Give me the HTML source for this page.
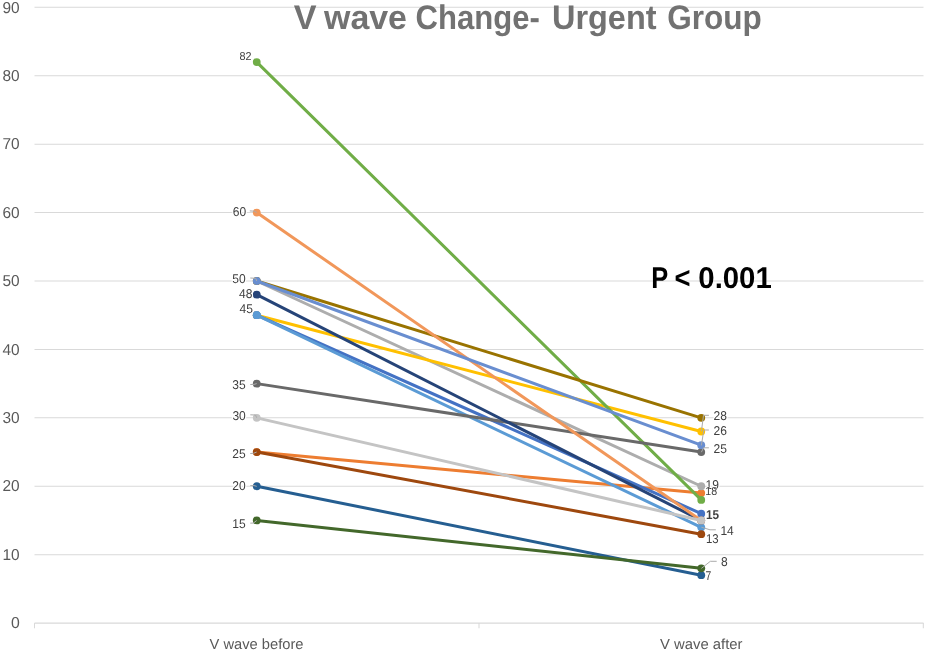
<!DOCTYPE html>
<html><head><meta charset="utf-8"><title>V wave Change- Urgent Group</title>
<style>
html,body{margin:0;padding:0;background:#fff;}
body{width:925px;height:653px;overflow:hidden;}
svg{display:block;font-family:"Liberation Sans",sans-serif;text-rendering:geometricPrecision;}
.ax{font-size:14.7px;fill:#595959;}
.dl{font-size:12px;fill:#404040;paint-order:stroke;stroke:#fff;stroke-width:2.5px;stroke-linejoin:round;}
.ld{stroke:#ABABAB;stroke-width:1;fill:none;}
</style></head><body>
<svg width="925" height="653" viewBox="0 0 925 653">
<rect width="925" height="653" fill="#fff"/>
<g stroke="#D9D9D9" stroke-width="1.05">
<line x1="34.5" x2="923.5" y1="623.1" y2="623.1"/>
<line x1="34.5" x2="923.5" y1="554.68" y2="554.68"/>
<line x1="34.5" x2="923.5" y1="486.26" y2="486.26"/>
<line x1="34.5" x2="923.5" y1="417.84" y2="417.84"/>
<line x1="34.5" x2="923.5" y1="349.42" y2="349.42"/>
<line x1="34.5" x2="923.5" y1="281.0" y2="281.0"/>
<line x1="34.5" x2="923.5" y1="212.58" y2="212.58"/>
<line x1="34.5" x2="923.5" y1="144.16" y2="144.16"/>
<line x1="34.5" x2="923.5" y1="75.74" y2="75.74"/>
<line x1="34.5" x2="923.5" y1="7.32" y2="7.32"/>
<line x1="34.5" x2="34.5" y1="623.1" y2="628.3"/>
<line x1="479" x2="479" y1="623.1" y2="628.3"/>
<line x1="923.3" x2="923.3" y1="623.1" y2="628.3"/>
</g>
<g class="ax" text-anchor="end">
<text transform="translate(19.7 628.3) scale(1 1)" style="font-size:15.8px">0</text>
<text transform="translate(19.7 559.88) scale(1 1)" style="font-size:15.8px" textLength="17.2" lengthAdjust="spacingAndGlyphs">10</text>
<text transform="translate(19.7 491.46) scale(1 1)" style="font-size:15.8px" textLength="17.2" lengthAdjust="spacingAndGlyphs">20</text>
<text transform="translate(19.7 423.04) scale(1 1)" style="font-size:15.8px" textLength="17.2" lengthAdjust="spacingAndGlyphs">30</text>
<text transform="translate(19.7 354.62) scale(1 1)" style="font-size:15.8px" textLength="17.2" lengthAdjust="spacingAndGlyphs">40</text>
<text transform="translate(19.7 286.2) scale(1 1)" style="font-size:15.8px" textLength="17.2" lengthAdjust="spacingAndGlyphs">50</text>
<text transform="translate(19.7 217.78) scale(1 1)" style="font-size:15.8px" textLength="17.2" lengthAdjust="spacingAndGlyphs">60</text>
<text transform="translate(19.7 149.36) scale(1 1)" style="font-size:15.8px" textLength="17.2" lengthAdjust="spacingAndGlyphs">70</text>
<text transform="translate(19.7 80.94) scale(1 1)" style="font-size:15.8px" textLength="17.2" lengthAdjust="spacingAndGlyphs">80</text>
<text transform="translate(19.7 12.52) scale(1 1)" style="font-size:15.8px" textLength="17.2" lengthAdjust="spacingAndGlyphs">90</text>
</g>
<text y="29.4" font-size="34px" font-weight="bold" fill="#727272"><tspan x="293.7" textLength="22.8" lengthAdjust="spacingAndGlyphs">V</tspan> <tspan x="324" textLength="83" lengthAdjust="spacingAndGlyphs">wave</tspan> <tspan x="415.5" textLength="124.3" lengthAdjust="spacingAndGlyphs">Change-</tspan> <tspan x="552" textLength="104.5" lengthAdjust="spacingAndGlyphs">Urgent</tspan> <tspan x="667.2" textLength="94.5" lengthAdjust="spacingAndGlyphs">Group</tspan></text>
<g stroke-width="3" stroke-linecap="round" fill="none">
<line x1="256.75" y1="452.05" x2="701.25" y2="493.1" stroke="#ED7D31"/>
<circle cx="256.75" cy="452.05" r="3.9" fill="#ED7D31" stroke="none"/><circle cx="701.25" cy="493.1" r="3.9" fill="#ED7D31" stroke="none"/>
<line x1="256.75" y1="281.0" x2="701.25" y2="486.26" stroke="#ADADAD"/>
<circle cx="256.75" cy="281.0" r="3.9" fill="#ADADAD" stroke="none"/><circle cx="701.25" cy="486.26" r="3.9" fill="#ADADAD" stroke="none"/>
<line x1="256.75" y1="315.21" x2="701.25" y2="431.52" stroke="#FFC000"/>
<circle cx="256.75" cy="315.21" r="3.9" fill="#FFC000" stroke="none"/><circle cx="701.25" cy="431.52" r="3.9" fill="#FFC000" stroke="none"/>
<line x1="256.75" y1="315.21" x2="701.25" y2="513.63" stroke="#4472C4"/>
<circle cx="256.75" cy="315.21" r="3.9" fill="#4472C4" stroke="none"/><circle cx="701.25" cy="513.63" r="3.9" fill="#4472C4" stroke="none"/>
<line x1="256.75" y1="315.21" x2="701.25" y2="527.31" stroke="#5B9BD5"/>
<circle cx="256.75" cy="315.21" r="3.9" fill="#5B9BD5" stroke="none"/><circle cx="701.25" cy="527.31" r="3.9" fill="#5B9BD5" stroke="none"/>
<line x1="256.75" y1="62.06" x2="701.25" y2="499.94" stroke="#70AD47"/>
<circle cx="256.75" cy="62.06" r="3.9" fill="#70AD47" stroke="none"/><circle cx="701.25" cy="499.94" r="3.9" fill="#70AD47" stroke="none"/>
<line x1="256.75" y1="486.26" x2="701.25" y2="575.21" stroke="#255E91"/>
<circle cx="256.75" cy="486.26" r="3.9" fill="#255E91" stroke="none"/><circle cx="701.25" cy="575.21" r="3.9" fill="#255E91" stroke="none"/>
<line x1="256.75" y1="452.05" x2="701.25" y2="534.15" stroke="#9E480E"/>
<circle cx="256.75" cy="452.05" r="3.9" fill="#9E480E" stroke="none"/><circle cx="701.25" cy="534.15" r="3.9" fill="#9E480E" stroke="none"/>
<line x1="256.75" y1="383.63" x2="701.25" y2="452.05" stroke="#696969"/>
<circle cx="256.75" cy="383.63" r="3.9" fill="#696969" stroke="none"/><circle cx="701.25" cy="452.05" r="3.9" fill="#696969" stroke="none"/>
<line x1="256.75" y1="281.0" x2="701.25" y2="417.84" stroke="#997300"/>
<circle cx="256.75" cy="281.0" r="3.9" fill="#997300" stroke="none"/><circle cx="701.25" cy="417.84" r="3.9" fill="#997300" stroke="none"/>
<line x1="256.75" y1="294.68" x2="701.25" y2="520.47" stroke="#264478"/>
<circle cx="256.75" cy="294.68" r="3.9" fill="#264478" stroke="none"/><circle cx="701.25" cy="520.47" r="3.9" fill="#264478" stroke="none"/>
<line x1="256.75" y1="520.47" x2="701.25" y2="568.36" stroke="#43682B"/>
<circle cx="256.75" cy="520.47" r="3.9" fill="#43682B" stroke="none"/><circle cx="701.25" cy="568.36" r="3.9" fill="#43682B" stroke="none"/>
<line x1="256.75" y1="212.58" x2="701.25" y2="520.47" stroke="#F1975A"/>
<circle cx="256.75" cy="212.58" r="3.9" fill="#F1975A" stroke="none"/><circle cx="701.25" cy="520.47" r="3.9" fill="#F1975A" stroke="none"/>
<line x1="256.75" y1="417.84" x2="701.25" y2="520.47" stroke="#C4C4C4"/>
<circle cx="256.75" cy="417.84" r="3.9" fill="#C4C4C4" stroke="none"/><circle cx="701.25" cy="520.47" r="3.9" fill="#C4C4C4" stroke="none"/>
<line x1="256.75" y1="281.0" x2="701.25" y2="445.21" stroke="#698ED0"/>
<circle cx="256.75" cy="281.0" r="3.9" fill="#698ED0" stroke="none"/><circle cx="701.25" cy="445.21" r="3.9" fill="#698ED0" stroke="none"/>
</g>
<circle cx="256.75" cy="315.21" r="3.9" fill="#5B9BD5"/>
<text y="287.9" font-size="30px" font-weight="bold" fill="#000" lengthAdjust="spacingAndGlyphs"><tspan x="651.2" textLength="16.5" lengthAdjust="spacingAndGlyphs">P</tspan> <tspan x="674.5" textLength="16" lengthAdjust="spacingAndGlyphs">&lt;</tspan> <tspan x="698.3" textLength="73.5" lengthAdjust="spacingAndGlyphs">0.001</tspan></text>
<text class="ax" x="209.5" y="648.6" textLength="94" lengthAdjust="spacingAndGlyphs">V wave before</text>
<text class="ax" x="660" y="648.6" textLength="82.5" lengthAdjust="spacingAndGlyphs">V wave after</text>
<g class="ld">
<polyline points="249.8,210.9 254.5,211.2 256.7,212.5"/>
<polyline points="250.3,278 255.8,278.3 256.7,281"/>
<polyline points="250.3,384.5 254,384.4 256.7,383.6"/>
<polyline points="250.3,414.8 255.5,415 256.7,417.8"/>
<polyline points="250.3,453.5 253.5,453.3 256.7,452.05"/>
<polyline points="250.3,485.6 254,485.6 256.7,486.3"/>
<polyline points="250.3,523.2 253.5,523 256.7,520.5"/>
<polyline points="708.9,415.3 703.5,415.3 701.4,431.4"/>
<polyline points="708.9,430 703.8,430 701.4,445.4"/>
<polyline points="708.9,447.8 703.5,447.8 701.4,452.2"/>
<polyline points="715.8,529.8 710,529.8 701.4,527.2"/>
<polyline points="716.7,561.3 710.3,561.3 701.4,568.4"/>
</g>
<g text-anchor="end">
<text class="dl" x="251.6" y="60.2" style="font-size:11.52px" textLength="12.0" lengthAdjust="spacingAndGlyphs">82</text>
<text class="dl" x="246.2" y="215.6" style="font-size:12.8px" textLength="13.4" lengthAdjust="spacingAndGlyphs">60</text>
<text class="dl" x="245.6" y="282.5" style="font-size:12.8px" textLength="13.4" lengthAdjust="spacingAndGlyphs">50</text>
<text class="dl" x="252.4" y="297.9" style="font-size:12.8px" textLength="13.4" lengthAdjust="spacingAndGlyphs">48</text>
<text class="dl" x="253" y="313" style="font-size:12.8px" textLength="13.4" lengthAdjust="spacingAndGlyphs">45</text>
<text class="dl" x="245.6" y="389.3" style="font-size:12.8px" textLength="13.4" lengthAdjust="spacingAndGlyphs">35</text>
<text class="dl" x="245.8" y="419.6" style="font-size:12.8px" textLength="13.4" lengthAdjust="spacingAndGlyphs">30</text>
<text class="dl" x="245.6" y="458" style="font-size:12.8px" textLength="13.4" lengthAdjust="spacingAndGlyphs">25</text>
<text class="dl" x="245.6" y="490.4" style="font-size:12.8px" textLength="13.4" lengthAdjust="spacingAndGlyphs">20</text>
<text class="dl" x="245.6" y="528.1" style="font-size:12.8px" textLength="13.4" lengthAdjust="spacingAndGlyphs">15</text>
</g><g>
<text class="dl" x="713.6" y="420" style="font-size:12.8px" textLength="13.4" lengthAdjust="spacingAndGlyphs">28</text>
<text class="dl" x="713.6" y="434.9" style="font-size:12.8px" textLength="13.4" lengthAdjust="spacingAndGlyphs">26</text>
<text class="dl" x="713.6" y="452.6" style="font-size:12.8px" textLength="13.4" lengthAdjust="spacingAndGlyphs">25</text>
<text class="dl" x="705.6" y="488.6" style="font-size:12.8px" textLength="13.4" lengthAdjust="spacingAndGlyphs">19</text>
<text class="dl" x="705.2" y="494.8" style="font-size:11.63px;stroke-width:0.7px" textLength="11.9" lengthAdjust="spacingAndGlyphs">18</text>
<text class="dl" x="706.0" y="519.4" style="font-size:12.8px" font-weight="bold" textLength="13.1" lengthAdjust="spacingAndGlyphs">15</text>
<text class="dl" x="720.4" y="534.6" style="font-size:12.8px" textLength="13.4" lengthAdjust="spacingAndGlyphs">14</text>
<text class="dl" x="706.0" y="542.9" style="font-size:12.8px" textLength="12.7" lengthAdjust="spacingAndGlyphs">13</text>
<text class="dl" x="720.9" y="566" style="font-size:12.8px" textLength="6.7" lengthAdjust="spacingAndGlyphs">8</text>
<text class="dl" x="705.6" y="579.6" style="font-size:12.8px" textLength="5.8" lengthAdjust="spacingAndGlyphs">7</text>
</g>
</svg></body></html>
